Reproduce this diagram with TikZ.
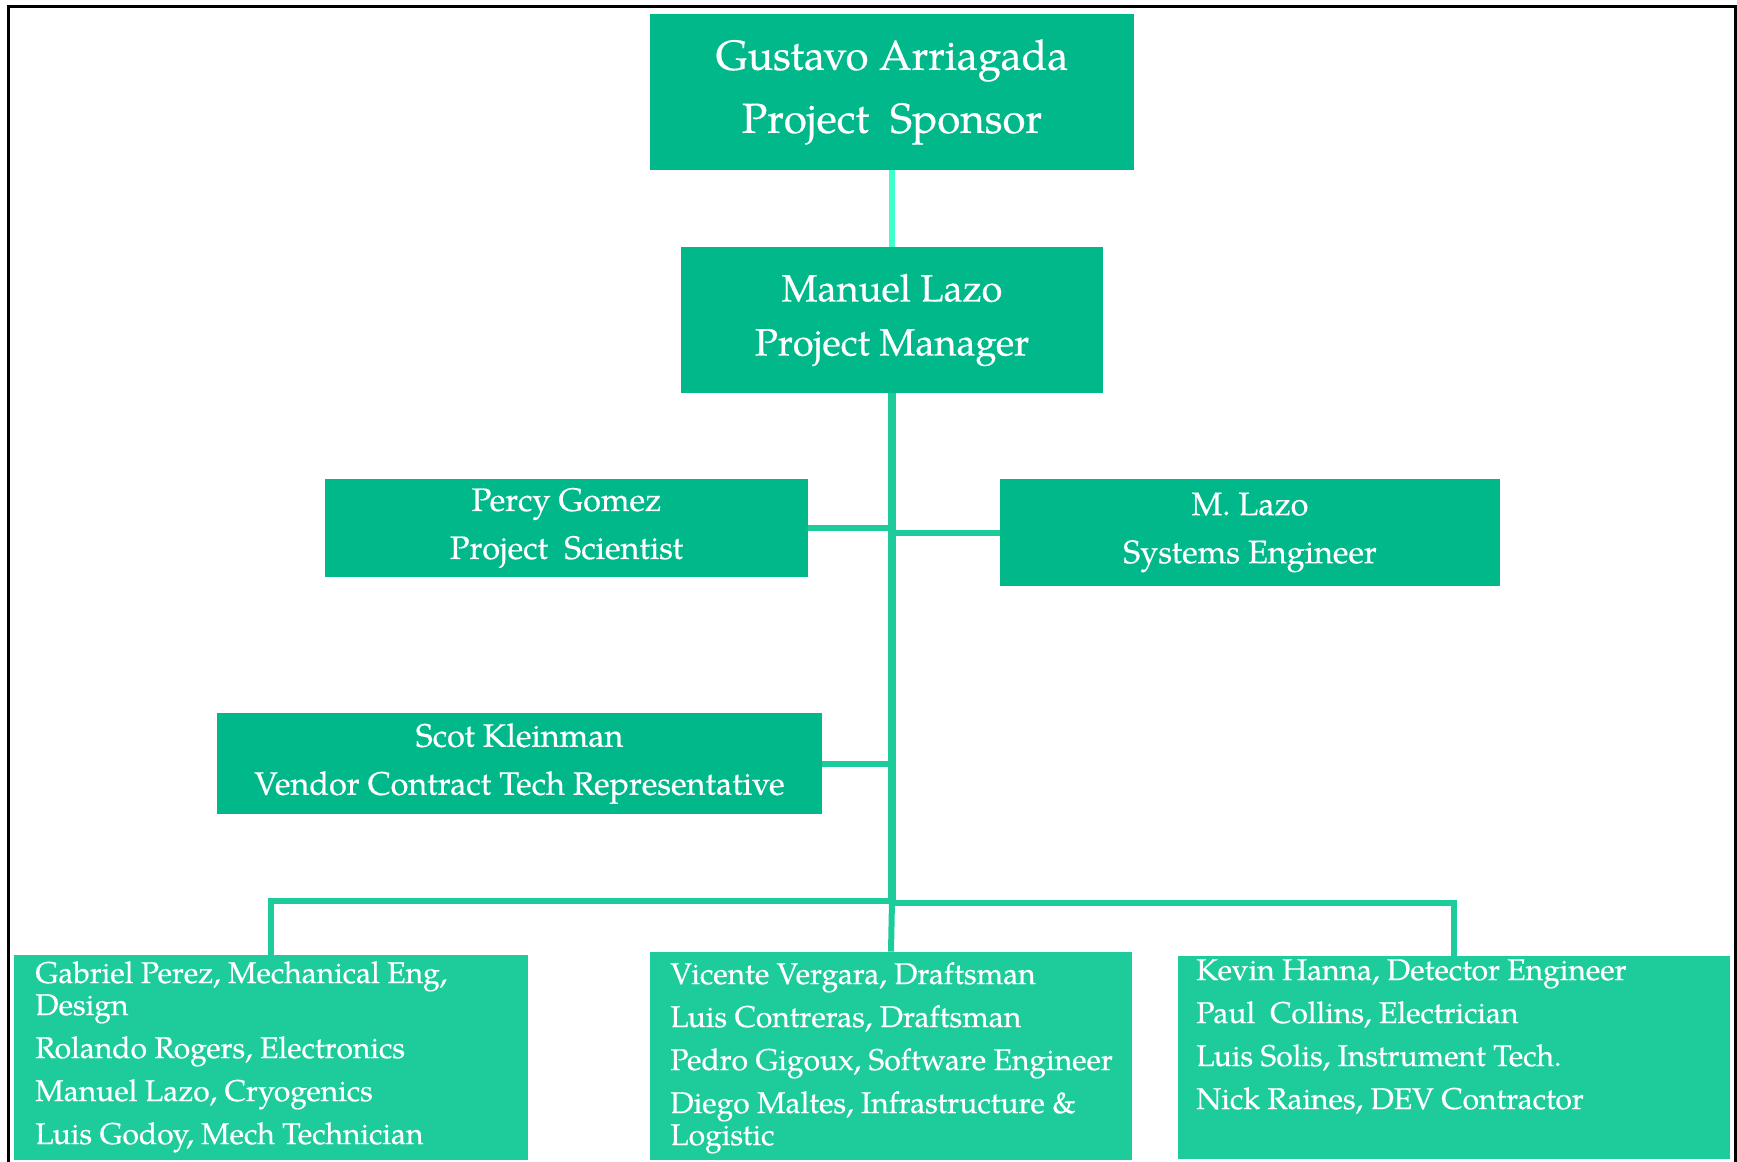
\documentclass[tikz,border=0pt]{standalone}
\usepackage{fontspec}
\setmainfont{texgyrepagella}[Extension=.otf, UprightFont=*-regular, BoldFont=*-bold, ItalicFont=*-italic, BoldItalicFont=*-bolditalic, FakeBold=0.5]
\definecolor{boxdark}{RGB}{0,184,138}
\definecolor{boxlight}{RGB}{30,204,155}
\definecolor{linegreen}{RGB}{30,204,155}
\definecolor{aqua}{RGB}{64,255,200}
\newcommand\sizeTop{\fontsize{21}{31.5}\selectfont}
\newcommand\sizeMgr{\fontsize{19}{27}\selectfont}
\newcommand\sizeMid{\fontsize{16.2}{24}\selectfont}
\newcommand\sizeBot{\fontsize{15}{21.5}\selectfont}
\tikzset{
  darkbox/.style={rectangle, fill=boxdark, draw=none, text=white, align=center, inner sep=0pt},
  lightbox/.style={rectangle, fill=boxlight, draw=none, inner sep=0pt},
  listtext/.style={text=white, inner sep=0pt, anchor=base west, font=\sizeBot},
  conn/.style={draw=linegreen, line width=3pt},
  trunkline/.style={draw=linegreen, line width=4pt},
  topconn/.style={draw=aqua, line width=3pt},
  frameline/.style={draw=black, line width=1.6pt}
}
\begin{document}
\begin{tikzpicture}[x=0.5pt, y=-0.5pt]
\clip (0,0) rectangle (1737,1162);
\fill[white] (0,0) rectangle (1737,1162);
\draw[frameline] (8.5,6.5) rectangle (1735.5,1200);

% upper boxes
\node[darkbox, minimum width=242pt, minimum height=78pt, font=\sizeTop] (spons) at (892,92)
  {Gustavo Arriagada\\Project~~Sponsor};
\node[darkbox, minimum width=211pt, minimum height=73pt, font=\sizeMgr] (mgr) at (892,320)
  {Manuel Lazo\\Project Manager};
\node[darkbox, minimum width=241.5pt, minimum height=49pt, font=\sizeMid] (sci) at (566.5,528)
  {Percy Gomez\\Project~~Scientist};
\node[darkbox, minimum width=250pt, minimum height=53.5pt, font=\sizeMid] (sys) at (1250,532.5)
  {M. Lazo\\Systems Engineer};
\node[darkbox, minimum width=302.5pt, minimum height=50.5pt, font=\sizeMid] (ven) at (519.5,763.5)
  {Scot Kleinman\\Vendor Contract Tech Representative};

% bottom boxes
\node[lightbox, minimum width=257pt, minimum height=102.5pt] (b1) at (271,1057.5) {};
\node[lightbox, minimum width=241pt, minimum height=104pt] (b2) at (891,1056) {};
\node[lightbox, minimum width=276pt, minimum height=101.5pt] (b3) at (1454,1057.5) {};

\node[listtext] (t1) at (35,983)
  {\begin{tabular}[t]{@{}l@{}}Gabriel Perez, Mechanical Eng,\\[-5.5pt]Design\\Rolando Rogers, Electronics\\Manuel Lazo, Cryogenics\\Luis Godoy, Mech Technician\end{tabular}};
\node[listtext] (t2) at (670,984)
  {\begin{tabular}[t]{@{}l@{}}Vicente Vergara, Draftsman\\Luis Contreras, Draftsman\\Pedro Gigoux, Software Engineer\\Diego Maltes, Infrastructure \&\\[-5.5pt]Logistic\end{tabular}};
\node[listtext] (t3) at (1196,980)
  {\begin{tabular}[t]{@{}l@{}}Kevin Hanna, Detector Engineer\\Paul~~Collins, Electrician\\Luis Solis, Instrument Tech.\\Nick Raines, DEV Contractor\end{tabular}};

% connectors
\coordinate (jn) at (892,901);
\coordinate (jr) at (892,903);
\draw[topconn] (spons.south) -- (mgr.north);
\draw[trunkline] (mgr.south) -- (jn);
\draw[conn] (sci.east) -- (sci.east -| mgr.south);
\draw[conn] (sys.west) -- (sys.west -| mgr.south);
\draw[conn] (ven.east) -- (ven.east -| mgr.south);
\draw[conn] (jn) -| (b1.north);
\draw[conn] (jr) -| (b3.north);
\draw[conn] (jn) -- (b2.north);
\end{tikzpicture}
\end{document}
